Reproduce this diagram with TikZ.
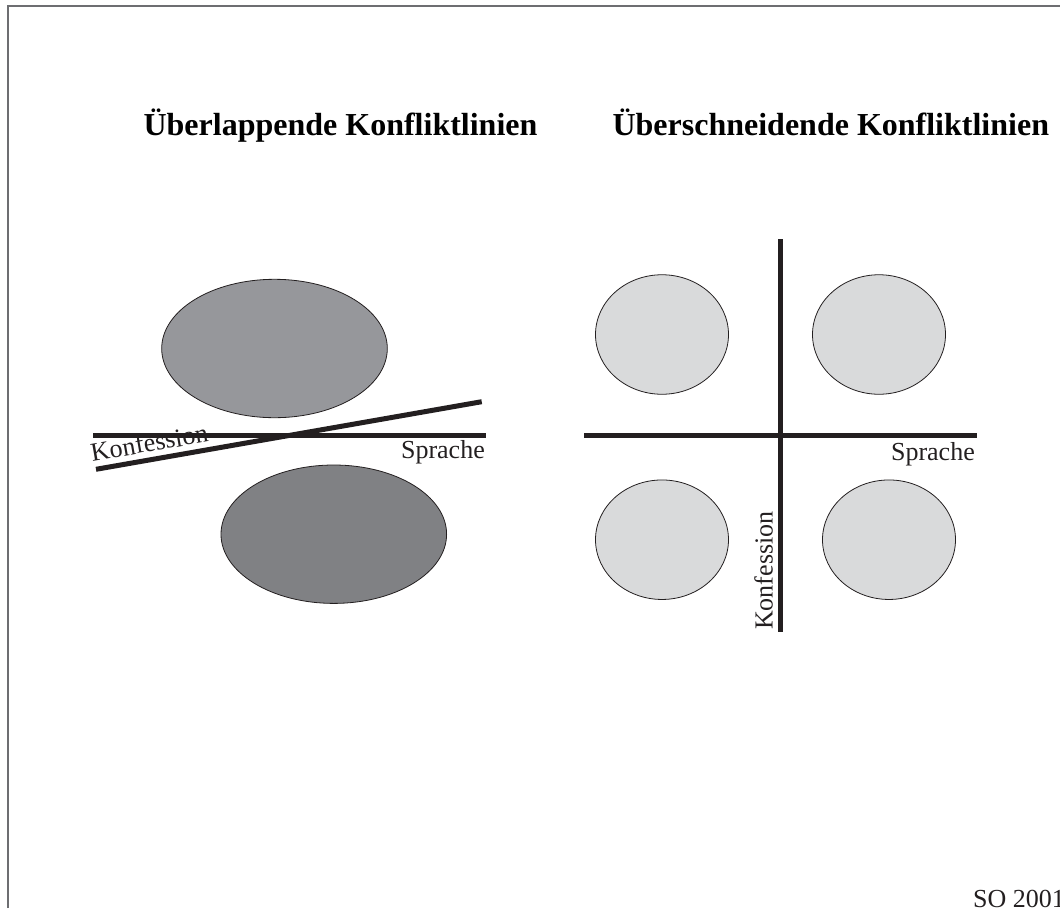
\documentclass[tikz,border=0pt]{standalone}
\usepackage{fontspec}
\setmainfont{Liberation Serif}
\usetikzlibrary{shapes.geometric}
\definecolor{darkline}{HTML}{231F20}
\definecolor{framegrey}{HTML}{6D6E71}
\definecolor{midgrey}{HTML}{96979B}
\definecolor{darkgrey}{HTML}{808184}
\definecolor{lightgrey}{HTML}{D9DADB}
\tikzset{
  blob/.style={ellipse,draw=darkline,line width=0.8pt,inner sep=0pt,minimum width=225.6pt,minimum height=138.4pt},
  spot/.style={ellipse,draw=darkline,line width=0.8pt,fill=lightgrey,inner sep=0pt,minimum width=133pt,minimum height=119.5pt},
  cleavage/.style={draw=darkline,line width=5pt},
  heading/.style={font=\bfseries\fontsize{32}{38}\selectfont,inner sep=0pt,anchor=base},
  linelabel/.style={font=\fontsize{26}{31}\selectfont,inner sep=0pt,text=darkline}
}
\begin{document}
\begin{tikzpicture}[x=1pt,y=-1pt]
        \useasboundingbox (0,0) rectangle (1060,908);
        \draw[framegrey,line width=1.5pt] (8,908) -- (8,6) -- (1060,6);
        \node at (340.5,135) [heading] (t1) {Überlappende Konfliktlinien};
        \node at (830.8,135) [heading] (t2) {Überschneidende Konfliktlinien};
        \node at (274.5,348.5) [blob,fill=midgrey] (upper) {};
        \node at (333.8,534.2) [blob,fill=darkgrey] (lower) {};
        \coordinate (s1) at (93,435.7);
        \coordinate (s2) at (486,435.7);
        \coordinate (k1) at (96,469.3);
        \coordinate (k2) at (481.7,401.7);
        \draw[cleavage] (s1) -- (s2);
        \draw[cleavage] (k1) -- (k2);
        \node at (485,458) [linelabel,anchor=base east] (sl1) {Sprache};
        \node at (92.3,461.7) [linelabel,anchor=base west,rotate=9.9] (kl1) {Konfession};
        \node at (662,334.5) [spot] (q1) {};
        \node at (879,334.5) [spot] (q2) {};
        \node at (662,539.7) [spot] (q3) {};
        \node at (889,539.7) [spot] (q4) {};
        \coordinate (h1) at (584,435.7);
        \coordinate (h2) at (977.3,435.7);
        \coordinate (v1) at (780.8,239.3);
        \coordinate (v2) at (780.8,631.7);
        \draw[cleavage] (h1) -- (h2);
        \draw[cleavage] (v1) -- (v2);
        \node at (975,460) [linelabel,anchor=base east] (sl2) {Sprache};
        \node at (772.7,630) [linelabel,anchor=base west,rotate=90] (kl2) {Konfession};
        \node at (973,907) [linelabel,anchor=base west] (src) {SO 2001};
\end{tikzpicture}
\end{document}
